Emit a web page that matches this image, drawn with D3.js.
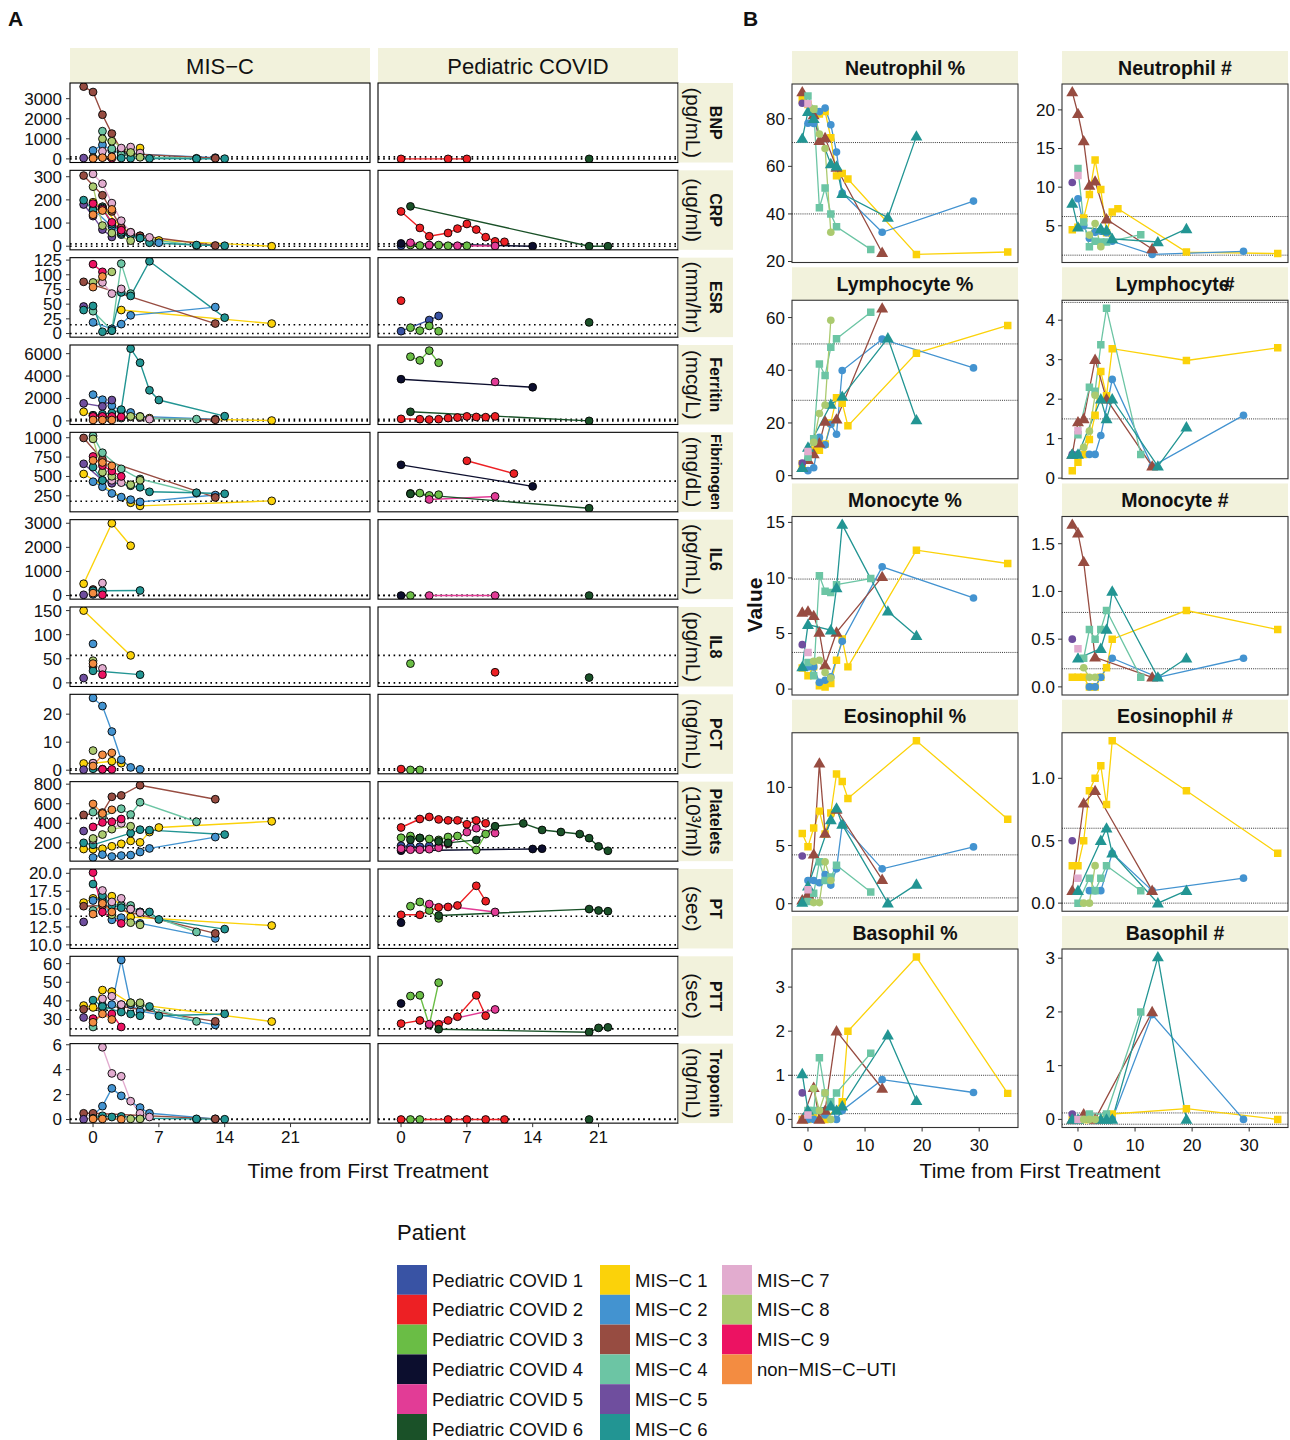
<!DOCTYPE html>
<html><head><meta charset="utf-8">
<script src="https://cdn.jsdelivr.net/npm/d3@7"></script>
<style>body{margin:0;background:#fff} text{font-family:"Liberation Sans",Arial,Helvetica,sans-serif;fill:#111}</style>
</head><body><svg id="c" width="1290" height="1440"></svg>
<script>
// ---------- patients ----------
const idsCovid = ["C1","C2","C3","C4","C5","C6"];
const idsMisc = ["M1","M2","M3","M4","M5","M6","M7","M8","M9","U"];
const patientIds = idsCovid.concat(idsMisc);
const patientNames = ["Pediatric COVID 1","Pediatric COVID 2","Pediatric COVID 3","Pediatric COVID 4","Pediatric COVID 5","Pediatric COVID 6",
  "MIS\u2212C 1","MIS\u2212C 2","MIS\u2212C 3","MIS\u2212C 4","MIS\u2212C 5","MIS\u2212C 6","MIS\u2212C 7","MIS\u2212C 8","MIS\u2212C 9","non\u2212MIS\u2212C\u2212UTI"];
const patientColors = ["#3953A4","#ED2024","#6ABD45","#0C0E2E","#E23C96","#1A5128",
  "#FBD20A","#4393D0","#974C41","#6CC5A4","#6F4E9E","#229593","#E2ACCF","#ABCA6F","#EC1262","#F38C41"];

// ---------- Panel A: labs ----------
const labsA = ["BNP","CRP","ESR","Ferritin","Fibrinogen","IL6","IL8","PCT","Platelets","PT","PTT","Troponin"];
const unitsA = ["(pg/mL)","(ug/ml)","(mm/hr)","(mcg/L)","(mg/dL)","(pg/mL)","(pg/mL)","(ng/mL)","(10\u00B3/ml)","(sec)","(sec)","(ng/mL)"];
const refsA = [[0,100],[0,10],[0,15],[0,150],[180,440],[0,7],[0,57],[0,0.5],[150,450],[10,14],[25,35],[0,0.04]];
const yTicksA = [[0,1000,2000,3000],[0,100,200,300],[0,25,50,75,100,125],[0,2000,4000,6000],[250,500,750,1000],
  [0,1000,2000,3000],[0,50,100,150],[0,10,20],[200,400,600,800],[10,12.5,15,17.5,20],[30,40,50,60],[0,2,4,6]];
const xTicksA = [0,7,14,21];
const xSpanA = [-1,28];

const bnp = {
  M3:[[-1,3600],[0,3330],[1,2200],[2,1260],[3,450],[4,250],[13,30]],
  M4:[[1,1380],[2,500],[3,200],[5,100],[11,30]],
  M8:[[1,1000],[2,880],[4,320],[5,80]],
  M2:[[0,420],[1,700],[2,420],[3,280],[4,300],[5,230],[13,60]],
  M7:[[1,380],[3,540],[4,590],[5,290]],
  M1:[[5,540]],
  M6:[[0,60],[1,80],[3,40],[4,30],[6,20],[11,10],[14,10]],
  M5:[[-1,40]], U:[[0,20],[1,60],[2,100]], M9:[[2,30]],
  C2:[[0,0],[5,0],[7,0]], C6:[[20,0]]
};
const crp = {
  M3:[[-1,305],[1,220],[2,150],[3,80],[4,55],[5,45],[13,3]],
  M7:[[0,312],[1,270],[2,186],[3,110],[4,60],[6,38]],
  M8:[[0,257],[1,89],[2,57],[4,24]],
  M6:[[-1,199],[0,155],[1,165],[2,95],[3,60],[4,48],[5,35],[6,15],[11,5],[14,2]],
  M5:[[-1,180],[0,130],[1,72],[2,40]],
  M9:[[0,184],[1,160],[2,103],[3,69]],
  U:[[0,136],[1,154],[2,159]],
  M2:[[0,160],[2,85],[3,50],[5,35],[7,15]],
  M1:[[0,190],[1,170],[3,80],[4,60],[5,45],[7,25],[19,0]],
  M4:[[1,170],[2,100],[3,55],[5,35],[11,3]],
  C2:[[0,150],[2,79],[3,43],[5,57],[6,76],[7,96],[8,72],[9,39],[10,21],[11,19]],
  C6:[[1,172],[20,0],[22,0]], C4:[[0,12],[14,0]], C5:[[1,15],[3,5],[6,2],[10,1]],
  C3:[[1,5],[2,3],[3,3],[4,5],[5,2],[7,2]], C1:[[0,2]]
};
const esr = {
  M9:[[0,118],[1,105]], M3:[[-1,88],[13,17]], M8:[[0,87],[2,105]], U:[[0,79],[1,97]],
  M7:[[1,87],[2,68],[3,76]], M4:[[0,38],[2,5],[3,119],[4,68]],
  M6:[[-1,40],[0,47],[1,3],[2,5],[3,70],[4,64],[6,123],[14,27]],
  M5:[[-1,46]], M2:[[0,19],[2,8],[3,16],[4,31],[13,45]], M1:[[3,40],[19,17]],
  C2:[[0,56]], C1:[[0,4],[3,23],[4,30]], C3:[[1,10],[2,5],[3,13],[4,4]], C6:[[20,19]]
};
const ferritin = {
  M6:[[0,500],[1,600],[2,700],[3,1000],[4,6450],[5,5190],[6,2730],[7,1860],[14,420]],
  M2:[[0,2340],[1,1890],[2,1350],[3,900],[4,750],[5,400],[13,150]],
  M5:[[-1,1560],[1,1290],[2,1860]], M1:[[-1,810],[0,500],[6,250],[19,30]],
  M9:[[0,400],[1,400],[2,400],[3,350]], U:[[0,80],[1,80],[2,80]],
  M7:[[4,350],[5,300],[6,150]], M8:[[4,400],[5,380]], M3:[[2,300],[13,100]], M4:[[1,300],[3,250],[11,150]],
  C2:[[0,180],[2,150],[3,120],[4,150],[5,250],[6,300],[7,400],[8,350],[9,330],[10,400]],
  C4:[[0,3720],[14,3000]], C5:[[10,3480]], C3:[[1,5730],[2,5400],[3,6270],[4,5190]], C6:[[1,810],[20,0]]
};
const fibrinogen = {
  M3:[[-1,997],[1,720],[13,229]], M8:[[0,985],[1,555],[2,502],[4,393],[5,450]],
  M4:[[0,1023],[1,806],[3,598],[5,467],[11,285]], M5:[[-1,663],[1,450],[2,411]],
  M9:[[0,758],[1,640],[2,570],[3,500]], U:[[0,706],[1,680],[2,637]],
  M6:[[0,620],[1,450],[4,380],[5,360],[6,302],[11,290],[14,276]],
  M2:[[0,432],[1,367],[2,281],[3,233],[4,200],[5,172],[13,260]],
  M1:[[-1,532],[4,160],[5,120],[19,185]], M7:[[2,450],[3,420]],
  C4:[[0,650],[14,372]], C2:[[7,702],[12,537]], C3:[[1,281],[2,285],[3,255],[4,265]],
  C5:[[3,203],[10,242]], C6:[[1,275],[20,90]]
};
const il6 = {
  M1:[[-1,490],[2,3000],[4,2067]], M6:[[0,200],[1,200],[5,209]], M7:[[1,519]], M3:[[0,250]],
  U:[[0,100]], M9:[[1,30]], M5:[[-1,30]], M2:[[0,50]],
  C4:[[0,0]], C3:[[1,0]], C5:[[3,0],[10,0]], C6:[[20,0]]
};
const il8 = {
  M1:[[-1,150],[4,57]], M2:[[0,81]], M8:[[0,46]], U:[[0,40]], M3:[[0,34]],
  M6:[[0,25],[5,17]], M7:[[1,30]], M9:[[1,17]], M5:[[-1,10]],
  C3:[[1,40]], C2:[[10,22]], C6:[[20,11]]
};
const pct = {
  M2:[[0,25.8],[1,22.9],[2,13.8],[3,3.7],[4,1],[5,0.3]], M8:[[0,7]], U:[[0,1.5],[1,5.5],[2,6.2]],
  M1:[[-1,2.4],[0,2.5],[2,3.2],[3,2.5]], M7:[[0,2.5]], M5:[[-1,0.2]], M9:[[1,0.3],[2,0.3]], M6:[[0,0.5],[1,0.4]],
  C2:[[0,0.4]], C3:[[1,0.1],[2,0.1]]
};
const platelets = {
  M3:[[-1,486],[1,510],[2,671],[3,685],[5,789],[13,646]], U:[[0,598],[1,500],[2,538]],
  M4:[[0,514],[1,470],[3,549],[4,490],[5,615],[11,416]], M9:[[0,363],[1,409],[2,415],[3,444]],
  M7:[[0,230],[3,400]], M5:[[-1,321]], M8:[[0,245],[1,285],[2,340],[4,370]],
  M6:[[-1,200],[0,180],[4,300],[5,335],[6,330],[14,285]],
  M1:[[-1,137],[0,135],[1,140],[2,165],[3,190],[4,220],[5,205],[6,310],[7,357],[19,420]],
  M2:[[0,50],[1,80],[2,60],[3,70],[4,75],[5,106],[6,143],[13,259]],
  C2:[[0,357],[2,444],[3,465],[4,440],[5,430],[6,430],[7,390],[8,430],[9,400]],
  C3:[[0,252],[1,270],[2,250],[3,240],[4,230],[5,260],[6,270],[8,127],[9,290]],
  C6:[[1,232],[2,250],[4,215],[5,200],[8,230],[10,370],[13,399],[15,332],[17,311],[19,290],[20,248],[21,164],[22,119]],
  C5:[[0,140],[1,130],[2,130],[3,135],[4,150],[5,190],[7,310],[8,350],[10,300]],
  C1:[[0,170],[1,160],[2,160],[3,170],[4,170]], C4:[[0,120],[14,137],[15,140]]
};
const pt = {
  M9:[[0,20.1],[1,14.6],[3,13]],
  M6:[[0,18.5],[1,16.9],[2,15.5],[3,15.2],[4,15],[5,14.6],[6,14.6],[7,13.55],[14,12.2]],
  M7:[[1,17.6],[2,16],[3,16.5],[4,15],[5,14.5]], M1:[[-1,15.9],[0,16.5],[2,16.8],[4,13.9],[19,12.7]],
  M3:[[-1,15.4],[1,15.5],[13,11.6]], M5:[[-1,13.2]],
  M2:[[0,16.2],[1,16.5],[2,13.5],[3,13.8],[5,13],[13,10.9]], U:[[0,14.3],[1,15.8],[2,14.6]],
  M4:[[0,14.8],[1,16],[3,15.5],[4,15.5],[5,14.6],[11,11.8]], M8:[[2,14.2],[4,13.1],[5,12.8]],
  C2:[[0,14.2],[2,14.2],[4,15.25],[5,15.3],[6,15.5],[8,18.25],[9,16.1]],
  C3:[[1,15.4],[2,16],[3,14.8],[4,13.7]], C5:[[3,15.7],[10,14.6]],
  C6:[[4,14.1],[20,15],[21,14.8],[22,14.7]], C4:[[0,13.1]]
};
const ptt = {
  M2:[[1,37.7],[2,38],[3,62],[4,38],[5,34.5],[13,27.1]],
  M1:[[-1,37.5],[0,36.5],[1,45.8],[2,45],[4,38.5],[19,28.9]],
  M3:[[-1,35.5],[3,37],[13,29]], M5:[[-1,31.1]],
  M6:[[0,40.4],[1,37],[3,34],[4,33],[5,32],[6,37],[7,32],[14,33]],
  M4:[[0,26],[1,35],[3,38],[4,39],[5,38],[11,29]], M7:[[1,41.1],[2,42.5],[3,38]],
  M9:[[0,30.5],[2,33],[3,26]], U:[[0,28.5],[1,33],[2,30]], M8:[[4,39],[5,39]],
  C4:[[0,38.6]], C3:[[1,42.6],[2,43],[3,27],[4,49.8]],
  C2:[[0,27.8],[2,29.5],[4,27.5],[5,29.5],[6,31.5],[8,43],[9,32]],
  C5:[[3,27.5],[10,35.4]], C6:[[4,24.8],[20,23.2],[21,25.5],[22,25.8]]
};
const troponin = {
  M7:[[1,5.8],[2,3.7],[3,3.47],[4,1.47],[5,0.5],[6,0.2]],
  M2:[[0,0.3],[1,1.07],[2,2.5],[3,1.9],[5,0.96],[6,0.5],[13,0.05]],
  M3:[[-1,0.5],[0,0.5],[13,0.05]], M6:[[0,0.1],[1,0.3],[2,0.2],[3,0.25],[5,0.1],[11,0.05],[14,0.02]],
  U:[[0,0.05],[1,0.05],[3,0.02]], M5:[[-1,0.02]], M8:[[4,0.05],[5,0.05]], M4:[[11,0.02]],
  C2:[[0,0],[5,0],[7,0],[9,0],[11,0]], C3:[[1,0],[2,0]], C6:[[20,0]]
};
const dataA = [bnp,crp,esr,ferritin,fibrinogen,il6,il8,pct,platelets,pt,ptt,troponin];

// ---------- Panel B: blood counts ----------
const labsB = ["Neutrophil %","Neutrophil #","Lymphocyte %","Lymphocyte #","Monocyte %","Monocyte #","Eosinophil %","Eosinophil #","Basophil %","Basophil #"];
const refsB = [[40,70],[1.2,6.2],[28.6,50],[1.5,4.45],[3.3,9.9],[0.19,0.78],[0.5,4.2],[0,0.6],[0.13,1],[-0.09,0.12]];
const yTicksB = [[20,40,60,80],[5,10,15,20],[0,20,40,60],[0,1,2,3,4],[0,5,10,15],[0,0.5,1,1.5],[0,5,10],[0,0.5,1],[0,1,2,3],[0,1,2,3]];
const xTicksB = [0,10,20,30];

const neutPct = {
  M3:[[-1,91.2],[1,81.6],[2,70.8],[3,72],[5,59.5],[13,23.7]],
  M1:[[-1,88],[0,86],[1,84],[2,82],[3,83],[4,72],[5,56],[6,57],[7,54.7],[19,23],[35,24]],
  M2:[[0,78.1],[1,78],[2,83],[3,84.5],[4,77.5],[5,66],[6,48.8],[13,32.3],[29,45.4]],
  M4:[[0,89.6],[1,84],[2,42.6],[3,50.9],[4,40],[5,34.6],[11,25.1]],
  M6:[[-1,71.7],[0,83],[1,80],[4,61],[5,60],[6,48.5],[14,38.5],[19,72.6]],
  M8:[[1,84],[2,73.6],[3,67.5],[4,32.3]], M7:[[0,86.3]], M5:[[-1,86.5]]
};
const neutAbs = {
  M3:[[-1,22.3],[0,19.5],[1,15.96],[2,10.2],[3,10.75],[5,5.85],[13,2.0]],
  M1:[[-1,4.5],[0,4.8],[1,6],[2,9.05],[3,13.5],[4,9.7],[5,4.1],[6,6.8],[7,7.2],[19,1.6],[35,1.4]],
  M2:[[0,8.5],[1,5],[2,3.4],[3,4.15],[4,4.3],[5,4.1],[6,3],[13,1.3],[29,1.7]],
  M4:[[0,12.4],[1,5.5],[2,2.3],[3,3],[4,2.9],[5,2.9],[11,3.85]],
  M6:[[-1,7.9],[0,4.8],[4,4.6],[5,4.4],[6,3.3],[14,2.9],[19,4.6]],
  M8:[[2,3.8],[3,5.3],[4,2.3]], M7:[[0,11.5]], M5:[[-1,10.6]]
};
const lymphPct = {
  M3:[[-1,3],[0,6],[1,8.2],[2,12.3],[3,20.6],[5,21.4],[13,63.5]],
  M1:[[-1,4.5],[1,9.7],[2,9.6],[3,12],[4,20],[5,29.6],[6,27.5],[7,18.9],[19,46.5],[35,57]],
  M2:[[0,1.9],[1,3],[2,14.5],[3,11.7],[4,19.5],[5,15.7],[6,39.9],[13,51.8],[29,40.9]],
  M4:[[0,7],[1,14],[2,42.4],[3,38],[4,48.7],[5,52],[11,62]],
  M6:[[-1,3],[0,10.7],[4,27],[6,30],[14,52.2],[19,21.1]],
  M8:[[1,12.6],[2,23.6],[3,26.8],[4,59]], M7:[[0,9.2]], M5:[[-1,4.8]]
};
const lymphAbs = {
  M3:[[-1,0.6],[0,1.42],[1,1.5],[3,3.0],[5,2.0],[13,0.3]],
  M1:[[-1,0.19],[0,0.4],[1,0.6],[2,0.98],[3,1.59],[4,2.7],[5,2.09],[6,3.28],[19,2.98],[35,3.3]],
  M2:[[0,0.6],[2,0.6],[3,0.6],[4,1.08],[6,2.5],[13,0.3],[29,1.59]],
  M4:[[0,1.1],[2,2.3],[3,2.2],[4,3.38],[5,4.3],[11,0.6]],
  M6:[[-1,0.6],[0,0.6],[4,2.0],[5,1.5],[6,2.0],[14,0.3],[19,1.29]],
  M8:[[1,0.78],[2,1.19],[3,2.1]], M7:[[0,1.2]], M5:[[-1,0.6]]
};
const monoPct = {
  M3:[[-1,6.9],[0,7],[1,6.6],[2,5.1],[3,2.14],[5,5.1],[13,10.1]],
  M1:[[-1,1.9],[0,1.2],[1,2],[2,0.3],[3,0.2],[4,0.5],[5,2.6],[6,4.5],[7,2],[19,12.5],[35,11.3]],
  M2:[[0,2],[1,2],[2,0.6],[3,0.8],[4,1.1],[6,4.3],[13,11],[29,8.2]],
  M4:[[0,2.4],[1,1.2],[2,10.2],[3,8.8],[4,8.7],[5,9.4],[11,9.95]],
  M6:[[-1,2],[0,5.8],[4,5.3],[5,9.1],[6,14.8],[14,7],[19,4.8]],
  M8:[[1,2.5],[2,2.6],[3,1.5],[4,1.0]], M7:[[0,3.3]], M5:[[-1,4]]
};
const monoAbs = {
  M3:[[-1,1.7],[0,1.61],[1,1.31],[3,0.31],[13,0.1]],
  M1:[[-1,0.1],[0,0.1],[1,0.1],[2,0],[3,0],[4,0.1],[5,0.2],[6,0.5],[19,0.8],[35,0.6]],
  M2:[[2,0],[3,0],[4,0.1],[6,0.3],[14,0.1],[29,0.3]],
  M4:[[1,0.3],[2,0.6],[3,0.5],[4,0.6],[5,0.8],[11,0.1]],
  M6:[[0,0.3],[4,0.4],[5,0.6],[6,1.0],[14,0.1],[19,0.3]],
  M8:[[1,0.2],[2,0.1],[3,0.1]], M7:[[0,0.4]], M5:[[-1,0.5]]
};
const eosPct = {
  M1:[[-1,6.03],[0,4.9],[1,6.5],[2,7.96],[3,6],[4,7.8],[5,11.15],[6,10.5],[7,9.05],[19,14],[35,7.27]],
  M3:[[-1,0.3],[0,0.8],[1,4.25],[2,12.07],[3,6.03],[5,8.1],[13,2.07]],
  M2:[[0,2],[1,2],[2,1.8],[3,2.5],[4,1.6],[5,3],[6,6.8],[13,3],[29,4.88]],
  M4:[[0,0.2],[1,0.9],[2,3.6],[3,2],[4,2.3],[5,3.3],[11,1]],
  M6:[[-1,0.1],[0,1.5],[4,7.2],[5,8.2],[6,6.8],[14,0.05],[19,1.66]],
  M8:[[1,0.1],[2,0.1],[3,3.6],[4,2]], M7:[[0,1.2]], M5:[[-1,4.1]]
};
const eosAbs = {
  M1:[[-1,0.3],[0,0.3],[1,0.5],[2,0.9],[3,1.0],[4,1.1],[5,0.79],[6,1.3],[19,0.9],[35,0.4]],
  M3:[[-1,0.1],[1,0.8],[3,0.9],[13,0.1]],
  M2:[[2,0.1],[3,0.1],[4,0.1],[6,0.4],[13,0.1],[29,0.2]],
  M4:[[0,0],[2,0.2],[3,0.1],[4,0.2],[5,0.3],[11,0.1]],
  M6:[[0,0.1],[4,0.5],[5,0.6],[6,0.4],[14,0],[19,0.1]],
  M8:[[1,0],[2,0],[3,0.3]], M7:[[0,0.2]], M5:[[-1,0.5]]
};
const basoPct = {
  M1:[[-1,0],[0,0],[1,0.1],[3,0],[6,0.4],[7,2],[19,3.68],[35,0.59]],
  M3:[[-1,0],[1,0.72],[2,0],[3,0.2],[5,2],[13,0.7]],
  M2:[[0,0],[1,0],[3,0.1],[4,0.3],[5,0],[6,0.2],[13,0.9],[29,0.61]],
  M4:[[0,0.2],[1,0.2],[2,1.4],[3,0.6],[4,0.4],[5,0.6],[11,1.5]],
  M6:[[-1,1.03],[0,0.2],[4,0.3],[5,0.2],[6,0.3],[14,1.91],[19,0.42]],
  M8:[[1,0.7],[2,0.2],[3,0.6],[4,0]], M7:[[0,0.1]], M5:[[-1,0.6]]
};
const basoAbs = {
  M6:[[-1,0],[0,0],[4,0],[5,0],[6,0],[14,3.02],[19,0]],
  M4:[[0,0],[2,0.1],[5,0.1],[11,2.0]],
  M3:[[-1,0],[1,0.1],[3,0],[13,2.0]],
  M2:[[2,0],[3,0],[6,0],[13,1.95],[29,0]],
  M1:[[-1,0],[0,0],[1,0],[2,0],[6,0.1],[19,0.2],[35,0]],
  M8:[[1,0],[2,0],[3,0]], M7:[[0,0]], M5:[[-1,0.1]]
};
const dataB = [neutPct,neutAbs,lymphPct,lymphAbs,monoPct,monoAbs,eosPct,eosAbs,basoPct,basoAbs];
const shapeB = {M1:d3.symbolSquare,M2:d3.symbolCircle,M3:d3.symbolTriangle,M4:d3.symbolSquare,M5:d3.symbolCircle,M6:d3.symbolTriangle,M7:d3.symbolSquare,M8:d3.symbolCircle};
const sizeB = {square:56, circle:46, triangle:62};

// ---------- helpers ----------
const STRIP = "#f2f2dc";
const colorOf = id => patientColors[patientIds.indexOf(id)];
const expand = (e, f=0.05) => { const r = e[1]-e[0]; return [e[0]-f*r, e[1]+f*r]; };
const svg = d3.select("#c");
const defs = svg.append("defs");

// panel labels
svg.append("text").attr("x",8).attr("y",26).attr("font-size",21).attr("font-weight","bold").text("A");
svg.append("text").attr("x",743).attr("y",26).attr("font-size",21).attr("font-weight","bold").text("B");

// ---------- draw panel A ----------
const aW = 300, aTop = 83, aPitch = 87.33, aH = 79.5;
const colsA = [{x0:70, ids:idsMisc, title:"MIS\u2212C"},{x0:378, ids:idsCovid, title:"Pediatric COVID"}];
const xDomA = expand(xSpanA);

colsA.forEach(col=>{
  svg.append("rect").attr("x",col.x0).attr("y",48).attr("width",aW).attr("height",aTop-48).attr("fill",STRIP);
  svg.append("text").attr("x",col.x0+aW/2).attr("y",73.5).attr("text-anchor","middle").attr("font-size",22).text(col.title);
});

labsA.forEach((lab,i)=>{
  const top = aTop + i*aPitch;
  const d = dataA[i];
  const vals = [];
  Object.values(d).forEach(s=>s.forEach(p=>vals.push(p[1])));
  refsA[i].forEach(v=>vals.push(v));
  const y = d3.scaleLinear().domain(expand(d3.extent(vals))).range([top+aH, top]);
  colsA.forEach((col,ci)=>{
    const x = d3.scaleLinear().domain(xDomA).range([col.x0, col.x0+aW]);
    const cid = `clipA${i}_${ci}`;
    defs.append("clipPath").attr("id",cid).append("rect").attr("x",col.x0).attr("y",top).attr("width",aW).attr("height",aH);
    const g = svg.append("g").attr("clip-path",`url(#${cid})`);
    g.append("rect").attr("x",col.x0).attr("y",top).attr("width",aW).attr("height",aH).attr("fill","#fff");
    refsA[i].forEach(v=>g.append("line").attr("x1",col.x0).attr("x2",col.x0+aW).attr("y1",y(v)).attr("y2",y(v))
      .attr("stroke","#000").attr("stroke-width",1.6).attr("stroke-dasharray","1.6,3.6"));
    const line = d3.line().x(p=>x(p[0])).y(p=>y(p[1]));
    col.ids.forEach(id=>{ if(d[id] && d[id].length>1) g.append("path").attr("d",line(d[id])).attr("fill","none")
      .attr("stroke",colorOf(id)).attr("stroke-width",1.4); });
    col.ids.forEach(id=>{ if(d[id]) g.selectAll(null).data(d[id]).enter().append("circle")
      .attr("cx",p=>x(p[0])).attr("cy",p=>y(p[1])).attr("r",3.9)
      .attr("fill",colorOf(id)).attr("stroke","#000").attr("stroke-width",0.9); });
    svg.append("rect").attr("x",col.x0).attr("y",top).attr("width",aW).attr("height",aH)
      .attr("fill","none").attr("stroke","#000").attr("stroke-width",1.1);
    if(i===labsA.length-1){
      xTicksA.forEach(t=>{
        svg.append("line").attr("x1",x(t)).attr("x2",x(t)).attr("y1",top+aH).attr("y2",top+aH+4).attr("stroke","#333");
        svg.append("text").attr("x",x(t)).attr("y",top+aH+20).attr("text-anchor","middle").attr("font-size",17).attr("fill","#222").text(t);
      });
    }
  });
  // y axis
  yTicksA[i].forEach(t=>{
    svg.append("line").attr("x1",66).attr("x2",70).attr("y1",y(t)).attr("y2",y(t)).attr("stroke","#333");
    svg.append("text").attr("x",62).attr("y",y(t)).attr("dy","0.35em").attr("text-anchor","end").attr("font-size",17).attr("fill","#222")
      .text(i===9 ? t.toFixed(1) : t);
  });
  // right strip
  svg.append("rect").attr("x",678.5).attr("y",top).attr("width",54.5).attr("height",aH).attr("fill",STRIP);
  const cy = top + aH/2;
  const tb = svg.append("text").attr("transform",`translate(716,${cy}) rotate(90)`).attr("text-anchor","middle")
    .attr("dy","0.35em").attr("font-size",16).attr("font-weight","bold").text(lab);
  if(lab==="Fibrinogen") tb.attr("textLength",76).attr("lengthAdjust","spacingAndGlyphs").attr("font-size",15);
  svg.append("text").attr("transform",`translate(693,${cy}) rotate(90)`).attr("text-anchor","middle")
    .attr("dy","0.35em").attr("font-size",20.5).text(unitsA[i]);
});
svg.append("text").attr("x",368).attr("y",1178).attr("text-anchor","middle").attr("font-size",21).text("Time from First Treatment");

// ---------- draw panel B ----------
const bCols = [792,1062], bW = 226, bStrip0 = 51, bPitch = 216.25, bStripH = 33, bH = 178.5;
const allX = [];
dataB.forEach(d=>Object.values(d).forEach(s=>s.forEach(p=>allX.push(p[0]))));
const xDomB = expand(d3.extent(allX));
const idsB = ["M1","M2","M3","M4","M5","M6","M7","M8"];

labsB.forEach((lab,k)=>{
  const row = Math.floor(k/2), col = k%2;
  const x0 = bCols[col], sTop = bStrip0 + row*bPitch, top = sTop + bStripH;
  const d = dataB[k];
  const vals = [];
  Object.values(d).forEach(s=>s.forEach(p=>vals.push(p[1])));
  const y = d3.scaleLinear().domain(expand(d3.extent(vals))).range([top+bH, top]);
  const x = d3.scaleLinear().domain(xDomB).range([x0, x0+bW]);
  svg.append("rect").attr("x",x0).attr("y",sTop).attr("width",bW).attr("height",bStripH).attr("fill",STRIP);
  const tt = svg.append("text").attr("x",x0+bW/2).attr("y",sTop+bStripH/2).attr("dy","0.36em").attr("text-anchor","middle")
    .attr("font-size",19.5).attr("font-weight","bold").attr("fill","#1a1a1a");
  if(lab==="Lymphocyte #"){ tt.text("Lymphocyte"); tt.append("tspan").attr("dx",-6).text("#"); }
  else tt.text(lab);
  const cid = `clipB${k}`;
  defs.append("clipPath").attr("id",cid).append("rect").attr("x",x0).attr("y",top).attr("width",bW).attr("height",bH);
  const g = svg.append("g").attr("clip-path",`url(#${cid})`);
  g.append("rect").attr("x",x0).attr("y",top).attr("width",bW).attr("height",bH).attr("fill","#fff");
  refsB[k].forEach(v=>g.append("line").attr("x1",x0).attr("x2",x0+bW).attr("y1",y(v)).attr("y2",y(v))
    .attr("stroke","#222").attr("stroke-width",0.9).attr("stroke-dasharray","1,1.1"));
  const line = d3.line().x(p=>x(p[0])).y(p=>y(p[1]));
  idsB.forEach(id=>{ if(d[id] && d[id].length>1) g.append("path").attr("d",line(d[id])).attr("fill","none")
    .attr("stroke",colorOf(id)).attr("stroke-width",1.3); });
  idsB.forEach(id=>{ if(!d[id]) return;
    const t = shapeB[id];
    const sz = t===d3.symbolSquare ? sizeB.square : (t===d3.symbolCircle ? sizeB.circle : sizeB.triangle);
    g.selectAll(null).data(d[id]).enter().append("path")
      .attr("d",d3.symbol().type(t).size(sz)())
      .attr("transform",p=>`translate(${x(p[0])},${y(p[1]) + (t===d3.symbolTriangle?0.8:0)})`)
      .attr("fill",colorOf(id)); });
  svg.append("rect").attr("x",x0).attr("y",top).attr("width",bW).attr("height",bH)
    .attr("fill","none").attr("stroke","#333").attr("stroke-width",1.1);
  yTicksB[k].forEach(t=>{
    svg.append("line").attr("x1",x0-4).attr("x2",x0).attr("y1",y(t)).attr("y2",y(t)).attr("stroke","#333");
    svg.append("text").attr("x",x0-7).attr("y",y(t)).attr("dy","0.35em").attr("text-anchor","end").attr("font-size",17).attr("fill","#222")
      .text((k===5||k===7) ? t.toFixed(1) : t);
  });
  if(row===4){
    xTicksB.forEach(t=>{
      svg.append("line").attr("x1",x(t)).attr("x2",x(t)).attr("y1",top+bH).attr("y2",top+bH+4).attr("stroke","#333");
      svg.append("text").attr("x",x(t)).attr("y",top+bH+23).attr("text-anchor","middle").attr("font-size",17).attr("fill","#222").text(t);
    });
  }
});
svg.append("text").attr("transform","translate(762,605) rotate(-90)").attr("text-anchor","middle")
  .attr("font-size",21).attr("font-weight","bold").text("Value");
svg.append("text").attr("x",1040).attr("y",1178).attr("text-anchor","middle").attr("font-size",21).text("Time from First Treatment");

// ---------- legend ----------
svg.append("text").attr("x",397).attr("y",1240).attr("font-size",22).text("Patient");
const legCols = [397,600,722];
patientIds.forEach((id,j)=>{
  const c = Math.floor(j/6), r = j%6;
  const lx = legCols[c], ly = 1265 + r*29.8;
  svg.append("rect").attr("x",lx).attr("y",ly).attr("width",30).attr("height",29.8).attr("fill",patientColors[j]);
  svg.append("text").attr("x",lx+35).attr("y",ly+15).attr("dy","0.36em").attr("font-size",18.5).text(patientNames[j]);
});
</script></body></html>
